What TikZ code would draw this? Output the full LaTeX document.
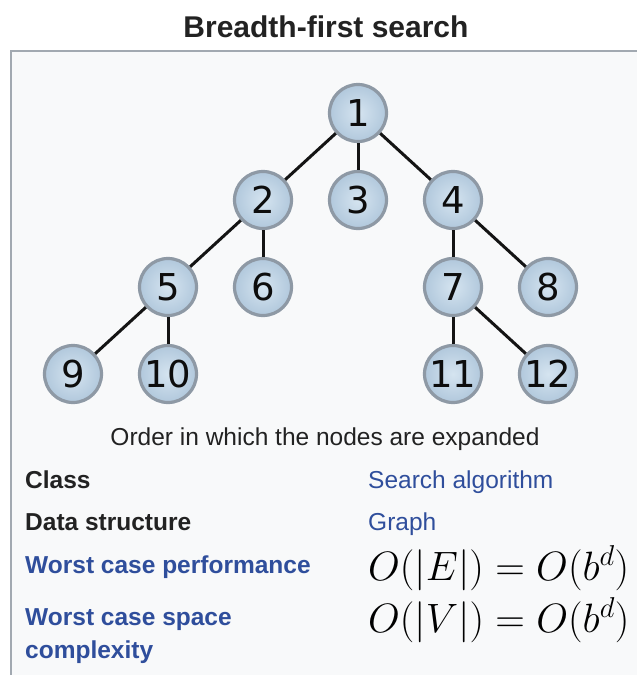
\RequirePackage{fix-cm}
\documentclass[tikz,border=0pt]{standalone}
\usepackage{fontspec}
\setmainfont{Liberation Sans}
\newfontfamily\chiffres{DejaVu Sans}
\usepackage{xcolor}
\usetikzlibrary{positioning}
\definecolor{fondboite}{HTML}{F8F9FA}
\definecolor{bordure}{HTML}{A2A9B1}
\definecolor{noeudcentre}{HTML}{D5E4F0}
\definecolor{noeudbord}{HTML}{B1C8DC}
\definecolor{contour}{HTML}{8E99A5}
\definecolor{lienbleu}{HTML}{2F4E9C}
\definecolor{texte}{HTML}{222222}
\tikzset{
  noeud/.style={circle, draw=contour, line width=3.2pt, inner color=noeudcentre,
    outer color=noeudbord, minimum size=57pt, inner sep=0pt,
    font=\chiffres\fontsize{37}{37}\selectfont, text=black!95},
  arete/.style={line width=3pt, color=black!92},
  titre/.style={font=\bfseries\fontsize{30}{34}\selectfont, text=texte,
    inner sep=0pt, anchor=base},
  legende/.style={font=\fontsize{24.5}{29}\selectfont, text=texte,
    inner sep=0pt, anchor=base},
  cle/.style={font=\bfseries\fontsize{24.5}{29}\selectfont, text=texte,
    inner sep=0pt, anchor=base west},
  clelien/.style={cle, text=lienbleu},
  valeur/.style={font=\fontsize{24.5}{29}\selectfont, text=lienbleu,
    inner sep=0pt, anchor=base west},
  formule/.style={font=\fontsize{41}{41}\selectfont, inner sep=0pt,
    anchor=base west}
}
\begin{document}
\begin{tikzpicture}[x=1pt, y=-1pt, node distance=87pt and 95pt, on grid]
    \useasboundingbox[fill=white] (0,0) rectangle (637,675);
    \path[fill=fondboite, draw=bordure, line width=1.5pt] (11,51) rectangle (660,700);
    \node[titre] (titre) at (326,37) {Breadth-first search};

    % arbre
    \node[noeud] (n1) at (358,113) {1};
    \node[noeud, below left=of n1] (n2) {2};
    \node[noeud, below=of n1] (n3) {3};
    \node[noeud, below right=of n1] (n4) {4};
    \node[noeud, below left=of n2] (n5) {5};
    \node[noeud, below=of n2] (n6) {6};
    \node[noeud, below=of n4] (n7) {7};
    \node[noeud, below right=of n4] (n8) {8};
    \node[noeud, below left=of n5] (n9) {9};
    \node[noeud, below=of n5] (n10) {10};
    \node[noeud, below=of n7] (n11) {11};
    \node[noeud, below right=of n7] (n12) {12};

    \draw[arete] (n1) -- (n2);
    \draw[arete] (n1) -- (n3);
    \draw[arete] (n1) -- (n4);
    \draw[arete] (n2) -- (n5);
    \draw[arete] (n2) -- (n6);
    \draw[arete] (n4) -- (n7);
    \draw[arete] (n4) -- (n8);
    \draw[arete] (n5) -- (n9);
    \draw[arete] (n5) -- (n10);
    \draw[arete] (n7) -- (n11);
    \draw[arete] (n7) -- (n12);

    \node[legende] (legende) at (325,445) {Order in which the nodes are expanded};

    % tableau
    \node[cle] (classe) at (25,488) {Class};
    \node[valeur] (algo) at (368,488) {Search algorithm};
    \node[cle] (structure) at (25,530) {Data structure};
    \node[valeur] (graphe) at (368,530) {Graph};
    \node[clelien] (perf) at (25,573) {Worst case performance};
    \node[formule] (temps) at (368,580) {$O(|E|) = O(b^d)$};
    \node[clelien] (espace) at (25,625) {Worst case space};
    \node[clelien] (complexite) at (25,658) {complexity};
    \node[formule] (memoire) at (368,632) {$O(|V|) = O(b^d)$};
\end{tikzpicture}
\end{document}
